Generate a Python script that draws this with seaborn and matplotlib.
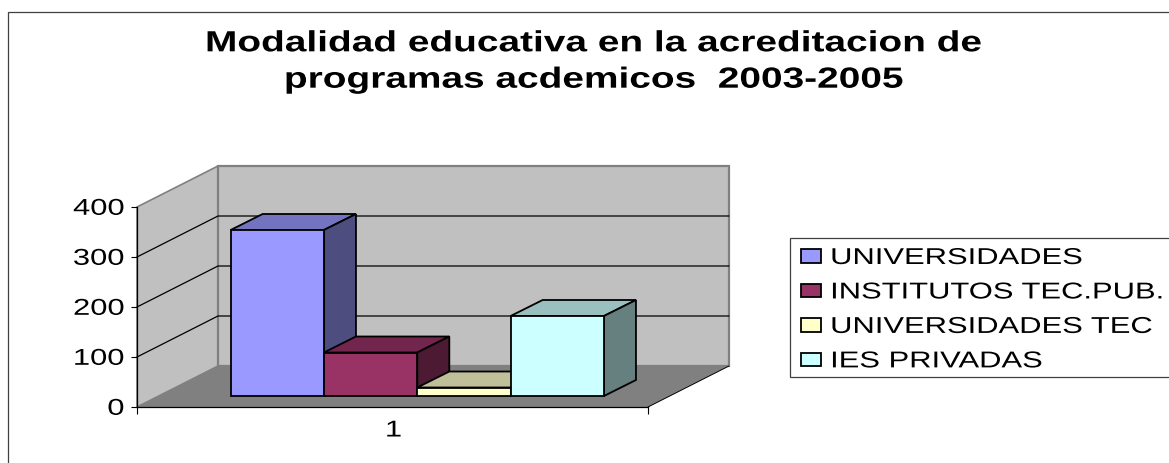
import matplotlib
matplotlib.use("Agg")
import matplotlib.pyplot as plt
import matplotlib.patheffects as pe
from matplotlib.patches import Polygon, Rectangle
from matplotlib.transforms import Affine2D, IdentityTransform
import pandas as pd
import seaborn as sns

# ---- data ----
category = ["1", "1", "1", "1"]
series = ["UNIVERSIDADES", "INSTITUTOS TEC.PUB.", "UNIVERSIDADES TEC", "IES PRIVADAS"]
values = [332, 87, 17, 160]
colors = ["#9999FF", "#993366", "#FFFFCC", "#CCFFFF"]
title_text = "Modalidad educativa en la acreditacion de\nprogramas acdemicos  2003-2005"
y_ticks = [0, 100, 200, 300, 400]

# ---- layout (pixels) ----
W, H = 1169, 463
L, R, B, T = 137, 648, 407, 207
WALL_DX, WALL_DY = 81, 41      # floor depth
BAR_DX, BAR_DY = 24.8, 11      # bars' front plane relative to front of floor
DEPTH_DX, DEPTH_DY = 32, 16    # depth of one bar


class HStretch(pe.AbstractPathEffect):
    """Widen drawn text horizontally about x0 (display px), with an optional nudge."""
    def __init__(self, sx, x0, dx=0, dy=0):
        super().__init__()
        self.t = Affine2D().translate(-x0, 0).scale(sx, 1).translate(x0 + dx, dy)

    def draw_path(self, renderer, gc, tpath, affine, rgbFace=None):
        renderer.draw_path(gc, tpath, affine + self.t, rgbFace)


sns.set_theme(style="white")
plt.rcParams["font.family"] = ["Liberation Sans", "DejaVu Sans"]

fig = plt.figure(figsize=(W / 100, H / 100), dpi=100, facecolor="white")
ax = fig.add_axes([L / W, (H - B) / H, (R - L) / W, (B - T) / H])
ax.patch.set_visible(False)

df = pd.DataFrame({"cat": category, "serie": series, "valor": values})
sns.barplot(data=df, x="cat", y="valor", hue="serie", hue_order=series,
            palette=colors, width=0.7306, gap=0, saturation=1,
            edgecolor="black", linewidth=1.3, ax=ax, errorbar=None)
ax.set_xlim(-0.5, 0.5)
ax.set_ylim(0, 400)
ax.set_xlabel("")
ax.set_ylabel("")

FONT = 16.5
ax.set_yticks(y_ticks)
ax.set_xticks([0], ["1"])
ax.set_xticks([-0.5, 0.5], minor=True)
ax.tick_params(axis="y", length=4, width=0.8, color="black", labelsize=FONT, pad=5, left=True,
               labelcolor="black")
ax.tick_params(axis="x", which="major", length=0, labelsize=FONT, pad=9, labelcolor="black")
ax.tick_params(axis="x", which="minor", length=5, width=0.8, color="black", bottom=True)
for s in ["top", "right"]:
    ax.spines[s].set_visible(False)
for s in ["left", "bottom"]:
    ax.spines[s].set_color("black")
    ax.spines[s].set_linewidth(0.9)
ax.spines["left"].set_zorder(0.8)

data = ax.transData
xl, xr = -0.5, 0.5
ymax = 400

# walls and floor, in data coordinates plus a pixel depth offset
def px(x_data, y_data, dx=0, dy=0):
    p = data.transform((x_data, y_data))
    return (p[0] + dx, p[1] + dy)

ident = IdentityTransform()
floor = [px(xl, 0), px(xr, 0), px(xr, 0, WALL_DX, WALL_DY), px(xl, 0, WALL_DX, WALL_DY)]
lwall = [px(xl, 0), px(xl, ymax), px(xl, ymax, WALL_DX, WALL_DY), px(xl, 0, WALL_DX, WALL_DY)]
bwall = [px(xl, 0, WALL_DX, WALL_DY), px(xl, ymax, WALL_DX, WALL_DY),
         px(xr, ymax, WALL_DX, WALL_DY), px(xr, 0, WALL_DX, WALL_DY)]
ax.add_patch(Polygon(floor, closed=True, transform=ident, fc="#808080", ec="none", zorder=0.3, clip_on=False))
ax.add_patch(Polygon(lwall, closed=True, transform=ident, fc="#C0C0C0", ec="#808080", lw=1.2, zorder=0.3, clip_on=False))
ax.add_patch(Polygon(bwall, closed=True, transform=ident, fc="#C0C0C0", ec="#808080", lw=1.6, zorder=0.3, clip_on=False))
ax.plot([floor[1][0], floor[2][0]], [floor[1][1], floor[2][1]], transform=ident,
        color="black", lw=0.7, zorder=0.4, clip_on=False)
for v in y_ticks[1:-1]:
    a, b, c = px(xl, v), px(xl, v, WALL_DX, WALL_DY), px(xr, v, WALL_DX, WALL_DY)
    ax.plot([a[0], b[0], c[0]], [a[1], b[1], c[1]], transform=ident, color="black",
            lw=0.9, zorder=0.5, clip_on=False, solid_joinstyle="miter")

# bars: front face from seaborn, top and side derived from the same patch
bars = [c[0] for c in ax.containers]
z = 1.0
bar_shift = Affine2D().translate(BAR_DX, BAR_DY)
for bar in bars:
    x0, x1 = bar.get_x(), bar.get_x() + bar.get_width()
    h = bar.get_height()
    face = bar.get_facecolor()[:3]
    dark = lambda k: tuple(k * c for c in face)
    p10 = px(x1, 0, BAR_DX, BAR_DY)
    p0h = px(x0, h, BAR_DX, BAR_DY)
    p1h = px(x1, h, BAR_DX, BAR_DY)
    add = lambda p: (p[0] + DEPTH_DX, p[1] + DEPTH_DY)
    top = Polygon([p0h, p1h, add(p1h), add(p0h)], closed=True, transform=ident, fc=dark(0.75),
                  ec="black", lw=1.3, zorder=z, clip_on=False, joinstyle="miter")
    side = Polygon([p10, p1h, add(p1h), add(p10)], closed=True, transform=ident, fc=dark(0.5),
                   ec="black", lw=1.3, zorder=z, clip_on=False, joinstyle="miter")
    ax.add_patch(top)
    ax.add_patch(side)
    bar.set_transform(data + bar_shift)
    bar.set_zorder(z + 0.1)
    bar.set_clip_on(False)
    z += 0.2

# legend: entries placed by matplotlib, box drawn to the chart's exact frame
handles, labels = ax.get_legend_handles_labels()
leg = ax.legend(handles, labels, loc="upper left",
                bbox_to_anchor=(801 / W, (H - 246) / H),
                bbox_transform=fig.transFigure, fontsize=FONT, frameon=False,
                borderaxespad=0, borderpad=0, labelspacing=0.50, handlelength=0.87,
                handleheight=0.53, handletextpad=0.40, labelcolor="black")
leg.set_zorder(5)
fig.add_artist(Rectangle((790, H - 377), 500, 139, transform=ident, fc="white",
                         ec="#404040", lw=0.9, zorder=-1))

# chart frame: only its top and left edges fall inside the picture
fig.add_artist(Rectangle((8, -20), W + 40, H + 20 - 12, transform=ident, fc="none",
                         ec="#404040", lw=0.9, zorder=-1))

title = fig.text(593.5 / W, 1 - 61.5 / H, title_text, ha="center", va="center", fontsize=21,
                 fontweight="bold", color="black", linespacing=1.38)

# stretch text to the chart's wide lettering
fig.canvas.draw()
r = fig.canvas.get_renderer()
SX = 1.35
for t in leg.get_texts():
    t.set_path_effects([HStretch(SX, t.get_window_extent(r).x0)])
for t in ax.get_yticklabels():
    t.set_path_effects([HStretch(SX, t.get_window_extent(r).x1, dy=1.2)])
for t in ax.get_xticklabels():
    e = t.get_window_extent(r)
    t.set_path_effects([HStretch(SX, (e.x0 + e.x1) / 2, dx=1, dy=1)])
e = title.get_window_extent(r)
title.set_path_effects([HStretch(777 / e.width, (e.x0 + e.x1) / 2)])

fig.savefig("out.png", dpi=100)
